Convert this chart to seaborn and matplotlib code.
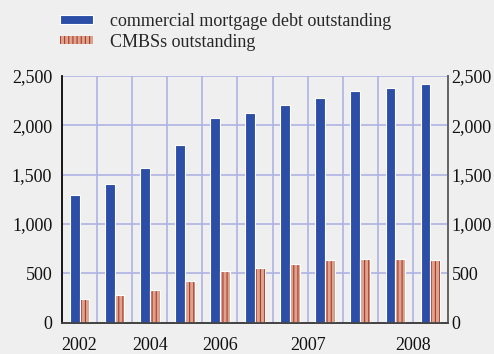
import matplotlib
matplotlib.use("Agg")
import matplotlib.pyplot as plt
from matplotlib.patches import Patch, Rectangle
from matplotlib.ticker import FuncFormatter
import seaborn as sns
import pandas as pd

# Periods: annual 2002-2006, then quarterly 2007 Q1 - 2008 Q2
periods = ["2002", "2003", "2004", "2005", "2006",
           "2007Q1", "2007Q2", "2007Q3", "2007Q4", "2008Q1", "2008Q2"]
mortgage_debt = [1295, 1410, 1566, 1799, 2073, 2120, 2205, 2282, 2343, 2383, 2418]
cmbs = [243, 284, 335, 426, 521, 558, 595, 633, 643, 643, 636]

series_names = ["commercial mortgage debt outstanding", "CMBSs outstanding"]

# Axis labels: text and the span of periods each one sits under
year_labels = ["2002", "2004", "2006", "2007", "2008"]
year_label_groups = [["2002"], ["2004"], ["2006"],
                     ["2007Q1", "2007Q2", "2007Q3", "2007Q4"],
                     ["2008Q1", "2008Q2"]]
y_ticks = [0, 500, 1000, 1500, 2000, 2500]

BG = "#efefef"
BLUE = "#2c4ea7"
SALMON = "#d9a58f"
STRIPE = "#b4372a"
GRID = "#afb3e4"

sns.set_theme(style="white")
plt.rcParams["font.family"] = ["Liberation Serif", "DejaVu Serif"]
plt.rcParams["hatch.linewidth"] = 0.8

df = pd.DataFrame({
    "period": periods * 2,
    "value": mortgage_debt + cmbs,
    "series": [series_names[0]] * len(periods) + [series_names[1]] * len(periods),
})

fig = plt.figure(figsize=(4.94, 3.54), dpi=100, facecolor=BG)
ax = fig.add_axes([62 / 494, 1 - 322.7 / 354, 386 / 494, (322.7 - 76) / 354])
ax.set_facecolor(BG)

sns.barplot(data=df, x="period", y="value", hue="series", order=periods,
            hue_order=series_names, palette=[BLUE, SALMON], width=0.56,
            saturation=1, dodge=True, legend=False, ax=ax, zorder=3,
            edgecolor="white", linewidth=0.8)

# Striped CMBS bars: the hatch takes the edge colour, so outline in white on top
for bar in ax.containers[1]:
    bar.set_edgecolor(STRIPE)
    bar.set_linewidth(0)
    bar.set_hatch("||||")
    ax.add_patch(Rectangle((bar.get_x(), bar.get_y()), bar.get_width(),
                           bar.get_height(), fill=False, edgecolor="white",
                           linewidth=0.8, zorder=4))

n = len(periods)
ax.set_xlim(-0.5, n - 0.5)
ax.set_ylim(0, 2500)

# Grid: horizontal at value ticks, vertical at period boundaries
for v in y_ticks[1:]:
    ax.axhline(v, color=GRID, lw=1.2, zorder=1)
for i in range(n - 1):
    ax.axvline(i + 0.5, color=GRID, lw=1.2, zorder=1)

fmt = FuncFormatter(lambda v, p: f"{int(v):,}")
ax.set_yticks(y_ticks)
ax.yaxis.set_major_formatter(fmt)
ax.tick_params(axis="y", left=False, length=0, labelsize=13, pad=7, colors="#111111")

ax2 = ax.twinx()
ax2.set_ylim(0, 2500)
ax2.set_yticks(y_ticks)
ax2.yaxis.set_major_formatter(fmt)
ax2.tick_params(axis="y", right=False, length=0, labelsize=13, pad=2.5, colors="#111111")

# Year labels centred under their periods, boundary ticks between periods
label_pos = [sum(periods.index(p) for p in grp) / len(grp) for grp in year_label_groups]
ax.set_xticks(label_pos)
ax.set_xticklabels(year_labels)
ax.set_xticks([i - 0.5 for i in range(n + 1)], minor=True)
ax.tick_params(axis="x", which="major", length=0, labelsize=13, pad=10, colors="#111111")
ax.tick_params(axis="x", which="minor", length=3.5, width=1.1, color="#444444",
               direction="out")
year_starts = [periods.index(grp[0]) for grp in year_label_groups[3:]]
for k, t in enumerate(ax.xaxis.get_minor_ticks()):
    if k in year_starts:
        t.tick1line.set_markersize(7)
ax.set_xlabel("")
ax.set_ylabel("")
ax2.set_ylabel("")

for a in (ax, ax2):
    a.spines["top"].set_visible(False)
    a.spines["bottom"].set_color("#444444")
    a.spines["bottom"].set_linewidth(1.3)
    a.spines["left"].set_color("#111111")
    a.spines["left"].set_linewidth(1.1)
    a.spines["right"].set_color("#666666")
    a.spines["right"].set_linewidth(1.4)

handles = [
    Patch(facecolor=BLUE, edgecolor="white", linewidth=0.8),
    Patch(facecolor=SALMON, edgecolor=STRIPE, linewidth=0, hatch="||||"),
]
fig.legend(handles, series_names, loc="upper left",
           bbox_to_anchor=(60 / 494, 1 - 13 / 354), frameon=False, fontsize=13,
           handlelength=1.85, handleheight=0.34, handletextpad=0.9,
           labelspacing=0.2, borderpad=0, borderaxespad=0)

fig.savefig("out.png", dpi=100, facecolor=BG)
